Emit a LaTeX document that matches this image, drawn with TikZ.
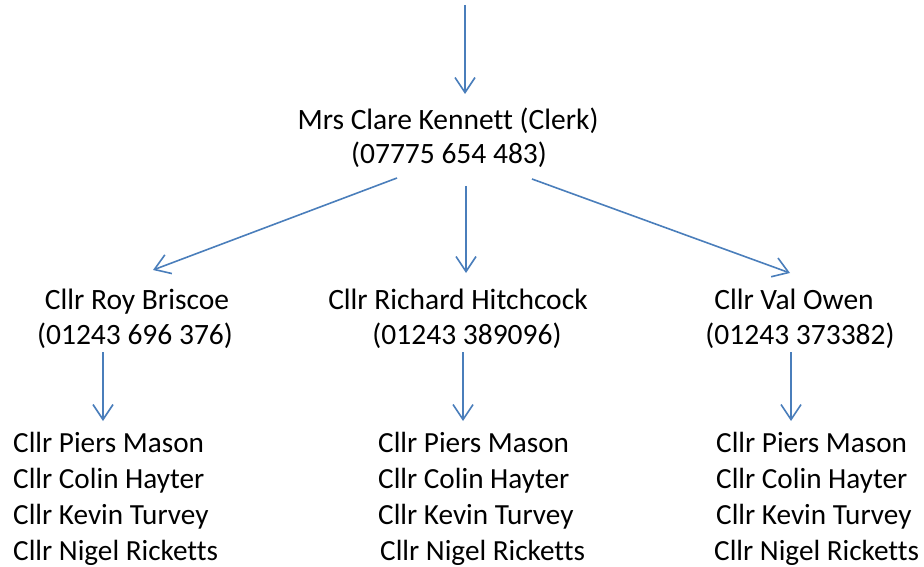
\documentclass[tikz,border=0pt]{standalone}
\usepackage{fontspec}
\setmainfont{Carlito}[Ligatures=NoCommon]
\usetikzlibrary{arrows.meta}
\definecolor{arrowblue}{RGB}{74,126,187}
\begin{document}
\begin{tikzpicture}[x=1pt,y=-1pt,
  arr/.style={draw=arrowblue,line width=1.6pt,-{Straight Barb[length=15pt,width=20pt,line width=1.6pt]}},
  lbl/.style={anchor=base,inner sep=0pt,font=\fontsize{29.5}{36}\selectfont},
  item/.style={anchor=base west,inner sep=0pt,font=\fontsize{29.2}{36}\selectfont}]
\useasboundingbox (0,0) rectangle (924,567);
% clerk
\node[lbl] (clerkA) at (448,130) {Mrs Clare Kennett (Clerk)};
\node[lbl] (clerkB) at (449,164) {(07775 654 483)};
% councillors
\node[lbl] (royA) at (137,309) {Cllr Roy Briscoe};
\node[lbl] (royB) at (135,344) {(01243 696 376)};
\node[lbl] (ricA) at (458,309) {Cllr Richard Hitchcock};
\node[lbl] (ricB) at (467,344) {(01243 389096)};
\node[lbl] (valA) at (794,309) {Cllr Val Owen};
\node[lbl] (valB) at (800,344) {(01243 373382)};
% lists
\foreach \n/\x/\xl in {L/13/13, M/378/380, R/716/714}{
  \node[item] (\n1) at (\x,452) {Cllr Piers Mason};
  \node[item] (\n2) at (\x,488) {Cllr Colin Hayter};
  \node[item] (\n3) at (\x,524) {Cllr Kevin Turvey};
  \node[item] (\n4) at (\xl,560) {Cllr Nigel Ricketts};
}
% connector end points
\coordinate (top) at (465,5);
\coordinate (topE) at (465,94);
\coordinate (cL) at (397,178);
\coordinate (cLE) at (153,270);
\coordinate (cM) at (466,186);
\coordinate (cME) at (466,273);
\coordinate (cR) at (532,179);
\coordinate (cRE) at (790,273);
\coordinate (dL) at (103,352);
\coordinate (dLE) at (103,421);
\coordinate (dM) at (463,352);
\coordinate (dME) at (463,421);
\coordinate (dR) at (791,352);
\coordinate (dRE) at (791,421);
\draw[arr] (top) -- (topE);
\draw[arr] (cL) -- (cLE);
\draw[arr] (cM) -- (cME);
\draw[arr] (cR) -- (cRE);
\draw[arr] (dL) -- (dLE);
\draw[arr] (dM) -- (dME);
\draw[arr] (dR) -- (dRE);
\end{tikzpicture}
\end{document}
